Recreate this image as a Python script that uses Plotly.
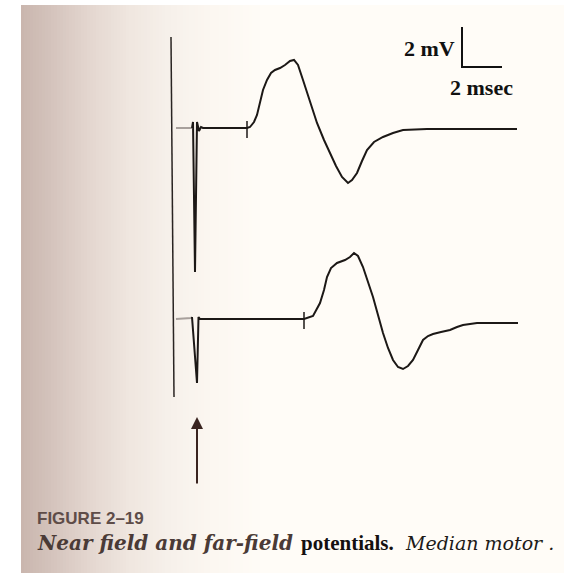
import numpy as np
import plotly.graph_objects as go

# ---------------- data (time in ms, amplitude in mV) ----------------
# upper (near-field) trace
top_t = [-1.0, -0.2, -0.15, -0.05, 0.05, 0.15, 0.25, 0.35, 2.55, 2.7, 2.9, 3.05, 3.2, 3.35,
         3.55, 3.75, 3.95, 4.2, 4.45, 4.7, 4.9, 5.1, 5.35, 5.7, 6.05, 6.4, 6.7, 7.0, 7.3,
         7.6, 7.8, 8.05, 8.3, 8.55, 8.9, 9.35, 9.85, 10.35, 11.55, 16.05]
top_mv = [0.0, 0.0, 0.3, -7.2, 0.3, -0.15, 0.05, 0.0, 0.0, 0.05, 0.3, 0.65, 1.3, 1.9,
          2.4, 2.75, 2.9, 3.0, 3.15, 3.35, 3.4, 3.15, 2.4, 1.3, 0.25, -0.6, -1.25, -1.9, -2.45,
          -2.75, -2.6, -2.25, -1.65, -1.1, -0.7, -0.45, -0.25, -0.1, -0.05, -0.05]

# lower (far-field) trace
bot_t = [-1.0, -0.25, -0.2, 0.05, 0.125, 0.2, 5.4, 5.85, 6.2, 6.4, 6.55, 6.75, 7.05, 7.45,
         7.7, 7.9, 8.1, 8.35, 8.6, 8.85, 9.1, 9.35, 9.6, 9.85, 10.1, 10.35, 10.6, 10.85,
         11.1, 11.35, 11.6, 11.85, 12.25, 12.7, 13.05, 13.35, 13.7, 14.05, 15.2, 16.1]
bot_mv = [0.0, 0.05, 0.1, -3.2, 0.1, 0.0, 0.0, 0.15, 0.8, 1.45, 2.1, 2.55, 2.8, 2.95,
          3.1, 3.3, 3.15, 2.6, 1.85, 1.1, 0.2, -0.7, -1.45, -2.05, -2.4, -2.5, -2.35, -2.05,
          -1.55, -1.05, -0.85, -0.75, -0.65, -0.55, -0.4, -0.3, -0.25, -0.2, -0.2, -0.2]

trace_offsets = [0.0, -9.55]          # vertical spacing of the two recordings (mV)
onset_marks = [2.55, 5.4]             # latency tick marks (ms)
onset_tick_mv = [0.35, -0.5]          # tick extent around baseline (mV)
stim_line_t = [-1.25, -1.1]           # vertical reference line (ms)
stim_line_mv = [4.55, -13.45]
arrow_t = 0.05
arrow_mv = [-14.45, -17.85]           # tip, tail
scale_t = [13.3, 13.3, 15.3]          # calibration bar: 2 mV / 2 msec
scale_mv = [5.05, 3.05, 3.05]

W, H = 564, 573
PX_MS, PX_MV = 20.0, 20.0
X0_PX, Y0_PX = 196.0, 128.0
x_range = [(0 - X0_PX) / PX_MS, (W - X0_PX) / PX_MS]
y_range = [(Y0_PX - H) / PX_MV, (Y0_PX - 0) / PX_MV]

fig = go.Figure()

INK = "#1c1816"
PRE = "#a8a09c"

def add_trace(t, mv, off):
    t = np.array(t); mv = np.array(mv) + off
    pre = t <= -0.2
    i = int(np.sum(pre))
    fig.add_trace(go.Scatter(x=t[:i], y=mv[:i], mode="lines",
                             line=dict(color=PRE, width=2), hoverinfo="skip"))
    fig.add_trace(go.Scatter(x=t[i - 1:], y=mv[i - 1:], mode="lines",
                             line=dict(color=INK, width=2), hoverinfo="skip"))

add_trace(top_t, top_mv, trace_offsets[0])
add_trace(bot_t, bot_mv, trace_offsets[1])

# onset ticks
for tm, off in zip(onset_marks, trace_offsets):
    fig.add_trace(go.Scatter(x=[tm, tm], y=[onset_tick_mv[0] + off, onset_tick_mv[1] + off],
                             mode="lines", line=dict(color=INK, width=1.5), hoverinfo="skip"))

# vertical reference line
fig.add_trace(go.Scatter(x=stim_line_t, y=stim_line_mv, mode="lines",
                         line=dict(color="#2a2422", width=1.5), hoverinfo="skip"))

# calibration bar
fig.add_trace(go.Scatter(x=scale_t, y=scale_mv, mode="lines",
                         line=dict(color="#111111", width=2), hoverinfo="skip"))

# ---------------- page background (scan shading) ----------------
shapes = []
shapes.append(dict(type="rect", xref="paper", yref="paper", x0=21 / W, x1=1, y0=0,
                   y1=1 - 5 / H, fillcolor="#fffcf7", line=dict(width=0), layer="below"))
stops = [(21, (202, 182, 174)), (50, (212, 195, 188)), (90, (228, 215, 208)),
         (130, (240, 231, 224)), (170, (247, 241, 235)), (210, (252, 247, 241)),
         (260, (255, 252, 247))]
xs = np.arange(21, 260, 3)
for xa in xs:
    xb = min(xa + 3, 260)
    xm = (xa + xb) / 2
    cols = []
    for k in range(3):
        cols.append(np.interp(xm, [s[0] for s in stops], [s[1][k] for s in stops]))
    shapes.append(dict(type="rect", xref="paper", yref="paper", x0=xa / W, x1=xb / W,
                       y0=0, y1=1 - 5 / H,
                       fillcolor="rgb(%d,%d,%d)" % tuple(int(c) for c in cols),
                       line=dict(width=0), layer="below"))

# ---------------- text ----------------
ann = []
ann.append(dict(x=13.05, y=4.0, xref="x", yref="y", text="<b>2 mV</b>", showarrow=False,
                xanchor="right", yanchor="middle",
                font=dict(family="Liberation Serif", size=22, color="#111111")))
ann.append(dict(x=14.25, y=2.05, xref="x", yref="y", text="<b>2 msec</b>", showarrow=False,
                xanchor="center", yanchor="middle",
                font=dict(family="Liberation Serif", size=22, color="#111111")))
# arrow
ann.append(dict(x=arrow_t, y=arrow_mv[0], ax=arrow_t, ay=arrow_mv[1], xref="x", yref="y",
                axref="x", ayref="y", text="", showarrow=True, arrowhead=2, arrowsize=1.2,
                arrowwidth=2, arrowcolor="#3a2420", standoff=0))


def pp(px, py):
    return px / W, 1 - py / H

x, y = pp(35, 518)
ann.append(dict(x=x, y=y, xref="paper", yref="paper", text="<b>FIGURE 2–19</b>",
                showarrow=False, xanchor="left", yanchor="middle",
                font=dict(family="Liberation Sans", size=17, color="#5e4c48")))
x, y = pp(35, 543)
ann.append(dict(x=x, y=y, xref="paper", yref="paper", text="<b><i>Near field and far-field</i></b>",
                showarrow=False, xanchor="left", yanchor="middle",
                font=dict(family="DejaVu Serif", size=20, color="#4a3a36")))
x, y = pp(299, 543)
ann.append(dict(x=x, y=y, xref="paper", yref="paper", text="<b>potentials.</b>",
                showarrow=False, xanchor="left", yanchor="middle",
                font=dict(family="Liberation Serif", size=21, color="#141010")))
x, y = pp(403, 543)
ann.append(dict(x=x, y=y, xref="paper", yref="paper", text="<i>Median motor .</i>",
                showarrow=False, xanchor="left", yanchor="middle",
                font=dict(family="DejaVu Serif", size=19, color="#201a18")))

fig.update_layout(
    width=W, height=H, margin=dict(l=0, r=0, t=0, b=0),
    paper_bgcolor="white", plot_bgcolor="rgba(0,0,0,0)",
    showlegend=False, shapes=shapes, annotations=ann,
    xaxis=dict(range=x_range, visible=False, fixedrange=True),
    yaxis=dict(range=y_range, visible=False, fixedrange=True),
)
fig.write_html("out.html")
